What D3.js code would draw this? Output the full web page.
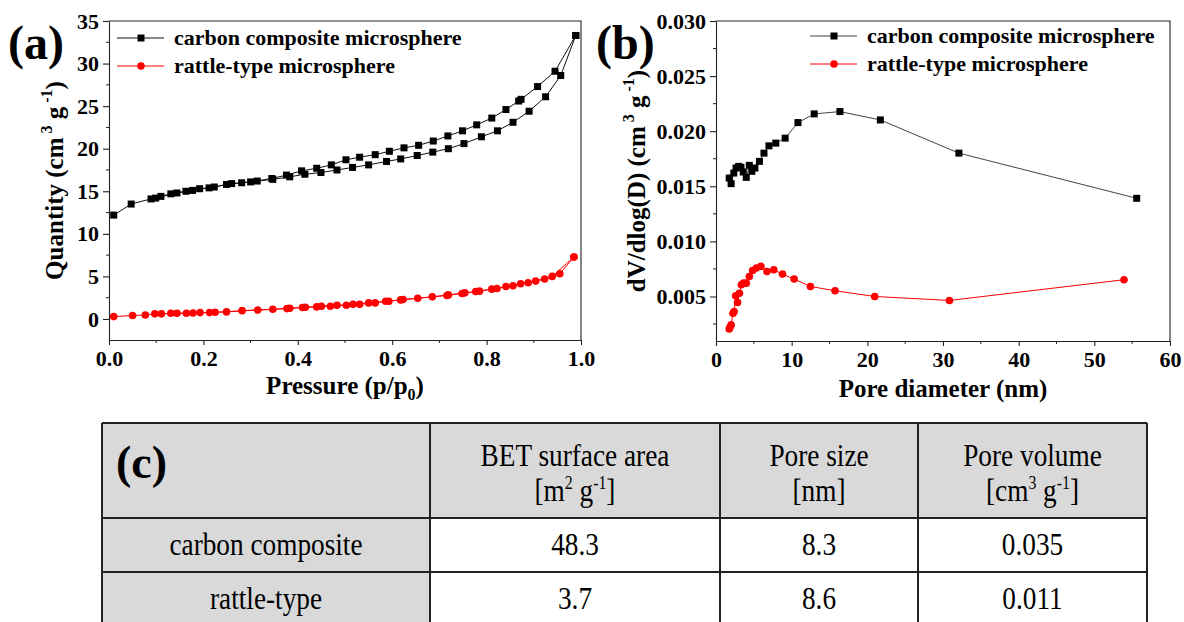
<!DOCTYPE html>
<html>
<head>
<meta charset="utf-8">
<script src="https://cdn.jsdelivr.net/npm/d3@7"></script>
<style>
body { margin: 0; background: #fff; }
svg { display: block; }
</style>
</head>
<body>
<div id="chart"></div>
<script>
// (a) N2 isotherm, carbon composite: adsorption then desorption branch
const carbonAdsP = [0.01, 0.047, 0.089, 0.11, 0.131, 0.163, 0.192, 0.223, 0.249, 0.281, 0.314, 0.347, 0.383, 0.415, 0.449, 0.483, 0.516, 0.55, 0.588, 0.618, 0.653, 0.686, 0.719, 0.752, 0.789, 0.823, 0.856, 0.89, 0.925, 0.957, 0.989];
const carbonAdsQ = [12.2, 13.5, 14.1, 14.4, 14.7, 15.0, 15.3, 15.5, 15.8, 16.0, 16.2, 16.4, 16.7, 17.0, 17.2, 17.5, 17.8, 18.1, 18.5, 18.8, 19.2, 19.6, 20.0, 20.6, 21.4, 22.1, 23.1, 24.4, 26.1, 28.6, 33.3];
const carbonDesP = [0.989, 0.945, 0.908, 0.873, 0.868, 0.841, 0.811, 0.779, 0.749, 0.718, 0.687, 0.656, 0.625, 0.594, 0.564, 0.531, 0.502, 0.471, 0.44, 0.408, 0.376, 0.345, 0.3, 0.26, 0.212, 0.177, 0.144, 0.099];
const carbonDesQ = [33.3, 29.1, 27.3, 25.8, 25.6, 24.6, 23.6, 22.8, 22.1, 21.5, 20.9, 20.4, 20.1, 19.7, 19.3, 19.0, 18.7, 18.1, 17.7, 17.4, 16.9, 16.5, 16.1, 15.9, 15.4, 15.1, 14.8, 14.2];

// (a) rattle-type
const rattleAdsP = [0.01, 0.05, 0.077, 0.097, 0.131, 0.164, 0.193, 0.225, 0.249, 0.282, 0.315, 0.347, 0.383, 0.416, 0.45, 0.483, 0.517, 0.55, 0.593, 0.623, 0.654, 0.685, 0.719, 0.754, 0.785, 0.822, 0.856, 0.888, 0.923, 0.955, 0.985];
const rattleAdsQ = [0.28, 0.4, 0.47, 0.6, 0.67, 0.68, 0.75, 0.79, 0.83, 0.98, 1.06, 1.14, 1.26, 1.38, 1.5, 1.61, 1.73, 1.89, 2.09, 2.28, 2.44, 2.6, 2.83, 3.07, 3.27, 3.58, 3.9, 4.25, 4.69, 5.31, 7.28];
const rattleDesP = [0.985, 0.939, 0.904, 0.872, 0.841, 0.811, 0.777, 0.748, 0.716, 0.618, 0.586, 0.564, 0.531, 0.503, 0.469, 0.44, 0.41, 0.377, 0.213, 0.178, 0.144, 0.111];
const rattleDesQ = [7.28, 5.0, 4.45, 4.13, 3.82, 3.5, 3.23, 2.99, 2.76, 2.24, 2.09, 1.89, 1.73, 1.61, 1.5, 1.42, 1.34, 1.22, 0.75, 0.71, 0.67, 0.6];

// (b) pore size distribution
const carbonPoreD = [1.75, 2.0, 2.35, 2.65, 3.0, 3.3, 3.6, 4.0, 4.4, 4.74, 5.14, 5.74, 6.34, 7.0, 7.9, 9.14, 10.83, 12.98, 16.38, 21.72, 32.1, 55.6];
const carbonPoreV = [0.01575, 0.01524, 0.0162, 0.01666, 0.01681, 0.01672, 0.0163, 0.01581, 0.0169, 0.01636, 0.01666, 0.01726, 0.01801, 0.01867, 0.01892, 0.01937, 0.02078, 0.02157, 0.02178, 0.02102, 0.01801, 0.01391];
const rattlePoreD = [1.75, 1.9, 2.0, 2.25, 2.4, 2.6, 2.85, 3.1, 3.35, 3.64, 4.0, 4.4, 4.84, 5.34, 5.94, 6.74, 7.64, 8.79, 10.33, 12.48, 15.73, 20.97, 30.85, 53.92];
const rattlePoreV = [0.00206, 0.00227, 0.00242, 0.00348, 0.00364, 0.00506, 0.00445, 0.0053, 0.00606, 0.00621, 0.00621, 0.00682, 0.00736, 0.00758, 0.00773, 0.00727, 0.00742, 0.00703, 0.00658, 0.00591, 0.00552, 0.005, 0.00464, 0.00652];

// (c) table
const tableHeaders = [['BET surface area', ['m', '2', ' g', '-1']], ['Pore size', ['nm']], ['Pore volume', ['cm', '3', ' g', '-1']]];
const tableSamples = ['carbon composite', 'rattle-type'];
const tableBET = ['48.3', '3.7'];
const tablePoreSize = ['8.3', '8.6'];
const tablePoreVolume = ['0.035', '0.011'];

const seriesNames = ['carbon composite microsphere', 'rattle-type microsphere'];
const RED = '#ff0000';
const SERIF = '"Liberation Serif", "Times New Roman", serif';

const svg = d3
	.select('#chart')
	.append('svg')
	.attr('width', 1184)
	.attr('height', 622)
	.style('font-family', SERIF);

const zip = (xs, ys) => xs.map((x, i) => [x, ys[i]]);

/**
 * Draw one Origin-style panel: frame, outward ticks, series and legend
 */
function drawPanel(cfg) {
	const x = d3.scaleLinear().domain(cfg.xDomain).range([cfg.left, cfg.right]);
	const y = d3.scaleLinear().domain(cfg.yDomain).range([cfg.bottom, cfg.top]);
	const g = svg.append('g');

	const xAxis = d3
		.axisBottom(x)
		.tickValues(cfg.xMajor)
		.tickFormat(cfg.xFormat)
		.tickSizeInner(5)
		.tickSizeOuter(0)
		.tickPadding(4);
	const yAxis = d3
		.axisLeft(y)
		.tickValues(cfg.yMajor)
		.tickFormat(cfg.yFormat)
		.tickSizeInner(6)
		.tickSizeOuter(0)
		.tickPadding(4);

	const xg = g
		.append('g')
		.attr('transform', `translate(0,${cfg.bottom})`)
		.call(xAxis);
	const yg = g
		.append('g')
		.attr('transform', `translate(${cfg.left},0)`)
		.call(yAxis);

	[xg, yg].forEach(a => {
		a.selectAll('path,line').attr('stroke', '#222').attr('stroke-width', 1.1);
		a.selectAll('text')
			.attr('fill', '#000')
			.style('font-family', SERIF)
			.style('font-weight', 'bold')
			.style('font-size', '22px');
	});
	xg.selectAll('text').attr('dy', '0.78em');

	// minor ticks
	g.append('g')
		.selectAll('line')
		.data(cfg.xMinor)
		.join('line')
		.attr('x1', d => x(d))
		.attr('x2', d => x(d))
		.attr('y1', cfg.bottom)
		.attr('y2', cfg.bottom + 3)
		.attr('stroke', '#222');
	g.append('g')
		.selectAll('line')
		.data(cfg.yMinor)
		.join('line')
		.attr('y1', d => y(d))
		.attr('y2', d => y(d))
		.attr('x1', cfg.left)
		.attr('x2', cfg.left - 3)
		.attr('stroke', '#222');

	// top and right frame
	g.append('path')
		.attr('d', `M${cfg.left},${cfg.top}H${cfg.right}V${cfg.bottom}`)
		.attr('fill', 'none')
		.attr('stroke', '#222')
		.attr('stroke-width', 1.1);

	const line = d3
		.line()
		.x(d => x(d[0]))
		.y(d => y(d[1]));

	cfg.series.forEach(s => {
		g.append('path')
			.datum(s.points)
			.attr('d', line)
			.attr('fill', 'none')
			.attr('stroke', s.lineColor)
			.attr('stroke-width', 1);
	});
	cfg.series.forEach(s => {
		drawMarkers(g, s.points.map(p => [x(p[0]), y(p[1])]), s.shape, s.color);
	});

	// legend
	cfg.legend.forEach((l, i) => {
		const ly = cfg.legendY + i * 28;
		g.append('line')
			.attr('x1', cfg.legendX)
			.attr('x2', cfg.legendX + 47)
			.attr('y1', ly)
			.attr('y2', ly)
			.attr('stroke', l.lineColor);
		drawMarkers(g, [[cfg.legendX + 24, ly]], l.shape, l.color);
		g.append('text')
			.attr('x', cfg.legendX + 57)
			.attr('y', ly + 7)
			.style('font-weight', 'bold')
			.style('font-size', '22px')
			.text(l.name);
	});

	// panel letter
	g.append('text')
		.attr('x', cfg.letterX)
		.attr('y', 59)
		.style('font-weight', 'bold')
		.style('font-size', '48px')
		.text(cfg.letter);

	// x title
	const xt = g
		.append('text')
		.attr('x', (cfg.left + cfg.right) / 2)
		.attr('y', cfg.xTitleY)
		.attr('text-anchor', 'middle')
		.style('font-weight', 'bold')
		.style('font-size', '25px');
	cfg.xTitle.forEach(t => {
		xt.append('tspan')
			.attr('dy', t.sub ? 6 : t.back ? -6 : 0)
			.style('font-size', t.sub ? '16px' : null)
			.text(t.text);
	});

	// y title
	const yt = g
		.append('text')
		.attr('transform', `translate(${cfg.yTitleX},${(cfg.top + cfg.bottom) / 2}) rotate(-90)`)
		.attr('text-anchor', 'middle')
		.style('font-weight', 'bold')
		.style('font-size', '25px');
	cfg.yTitle.forEach(t => {
		yt.append('tspan')
			.attr('dy', t.sup ? -11 : t.back ? 11 : 0)
			.style('font-size', t.sup ? '16px' : null)
			.text(t.text);
	});

	return {x, y};
}

function drawMarkers(g, pts, shape, color) {
	if (shape === 'square') {
		g.append('g')
			.selectAll('rect')
			.data(pts)
			.join('rect')
			.attr('x', d => d[0] - 3.5)
			.attr('y', d => d[1] - 3.5)
			.attr('width', 7)
			.attr('height', 7)
			.attr('fill', color);
	} else {
		g.append('g')
			.selectAll('circle')
			.data(pts)
			.join('circle')
			.attr('cx', d => d[0])
			.attr('cy', d => d[1])
			.attr('r', 3.8)
			.attr('fill', color);
	}
}

const supTitle = [
	{text: ' (cm'},
	{text: ' 3', sup: true},
	{text: ' g', back: true},
	{text: ' -1', sup: true},
	{text: ')', back: true},
];

drawPanel({
	left: 109,
	right: 581,
	top: 21,
	bottom: 340,
	xDomain: [0, 1],
	yDomain: [-2.47, 35],
	xMajor: d3.range(0, 1.01, 0.2),
	xMinor: d3.range(0.1, 1, 0.2),
	xFormat: d3.format('.1f'),
	yMajor: d3.range(0, 36, 5),
	yMinor: d3.range(2.5, 35, 5),
	yFormat: d3.format('d'),
	series: [
		{points: zip(carbonAdsP, carbonAdsQ).concat(zip(carbonDesP, carbonDesQ)), shape: 'square', color: '#000', lineColor: '#111'},
		{points: zip(rattleAdsP, rattleAdsQ).concat(zip(rattleDesP, rattleDesQ)), shape: 'circle', color: RED, lineColor: RED},
	],
	legend: [
		{name: seriesNames[0], shape: 'square', color: '#000', lineColor: '#111'},
		{name: seriesNames[1], shape: 'circle', color: RED, lineColor: RED},
	],
	legendX: 117,
	legendY: 38,
	letter: '(a)',
	letterX: 8,
	xTitle: [{text: 'Pressure (p/p'}, {text: '0', sub: true}, {text: ')', back: true}],
	xTitleY: 394,
	yTitle: [{text: 'Quantity'}].concat(supTitle),
	yTitleX: 63,
});

drawPanel({
	left: 716,
	right: 1170,
	top: 21,
	bottom: 341,
	xDomain: [0, 60],
	yDomain: [0.00096, 0.03],
	xMajor: d3.range(0, 61, 10),
	xMinor: d3.range(5, 60, 10),
	xFormat: d3.format('d'),
	yMajor: [0.005, 0.01, 0.015, 0.02, 0.025, 0.03],
	yMinor: [0.0025, 0.0075, 0.0125, 0.0175, 0.0225, 0.0275],
	yFormat: d3.format('.3f'),
	series: [
		{points: zip(carbonPoreD, carbonPoreV), shape: 'square', color: '#000', lineColor: '#444'},
		{points: zip(rattlePoreD, rattlePoreV), shape: 'circle', color: RED, lineColor: RED},
	],
	legend: [
		{name: seriesNames[0], shape: 'square', color: '#000', lineColor: '#444'},
		{name: seriesNames[1], shape: 'circle', color: RED, lineColor: RED},
	],
	legendX: 810,
	legendY: 36,
	letter: '(b)',
	letterX: 596,
	xTitle: [{text: 'Pore diameter (nm)'}],
	xTitleY: 397,
	yTitle: [{text: 'dV/dlog(D)'}].concat(supTitle),
	yTitleX: 645,
});

// (c) table
const colX = [102, 430, 720, 918, 1147];
const rowY = [423, 518, 572, 626];
const GRAY = '#d9d9d9';
const tg = svg.append('g');

// backgrounds: header row and first column grey
tg.append('rect')
	.attr('x', colX[0])
	.attr('y', rowY[0])
	.attr('width', colX[4] - colX[0])
	.attr('height', rowY[1] - rowY[0])
	.attr('fill', GRAY);
tg.append('rect')
	.attr('x', colX[0])
	.attr('y', rowY[1])
	.attr('width', colX[1] - colX[0])
	.attr('height', rowY[3] - rowY[1])
	.attr('fill', GRAY);

function cellText(cx, cy, parts, size) {
	const t = tg
		.append('text')
		.attr('transform', `translate(${cx},${cy}) scale(0.88,1)`)
		.attr('text-anchor', 'middle')
		.style('font-size', size + 'px');
	parts.forEach((p, i) => {
		const sup = i % 2 === 1;
		t.append('tspan')
			.attr('dy', sup ? -12 : i > 0 ? 12 : 0)
			.style('font-size', sup ? '18px' : null)
			.text(p);
	});
	return t;
}

tableHeaders.forEach((h, i) => {
	const cx = (colX[i + 1] + colX[i + 2]) / 2;
	cellText(cx, 466, [h[0]], 31);
	const unit = h[1].slice();
	unit[0] = '[' + unit[0];
	if (unit.length % 2 === 1) {
		unit[unit.length - 1] += ']';
	} else {
		unit.push(']');
	}
	cellText(cx, 501, unit, 31);
});

const rows = tableSamples.map((s, i) => [s, tableBET[i], tablePoreSize[i], tablePoreVolume[i]]);
rows.forEach((r, ri) => {
	const cy = (rowY[ri + 1] + rowY[ri + 2]) / 2 + 10;
	r.forEach((v, ci) => {
		cellText((colX[ci] + colX[ci + 1]) / 2, cy, [v], 31);
	});
});

tg.append('text')
	.attr('x', 116)
	.attr('y', 478)
	.style('font-weight', 'bold')
	.style('font-size', '46px')
	.text('(c)');

// grid lines
tg.append('g')
	.selectAll('line')
	.data(colX)
	.join('line')
	.attr('x1', d => d)
	.attr('x2', d => d)
	.attr('y1', rowY[0])
	.attr('y2', rowY[3])
	.attr('stroke', '#222')
	.attr('stroke-width', 2);
tg.append('g')
	.selectAll('line')
	.data(rowY)
	.join('line')
	.attr('x1', colX[0])
	.attr('x2', colX[4])
	.attr('y1', d => d)
	.attr('y2', d => d)
	.attr('stroke', '#222')
	.attr('stroke-width', 2);
</script>
</body>
</html>
